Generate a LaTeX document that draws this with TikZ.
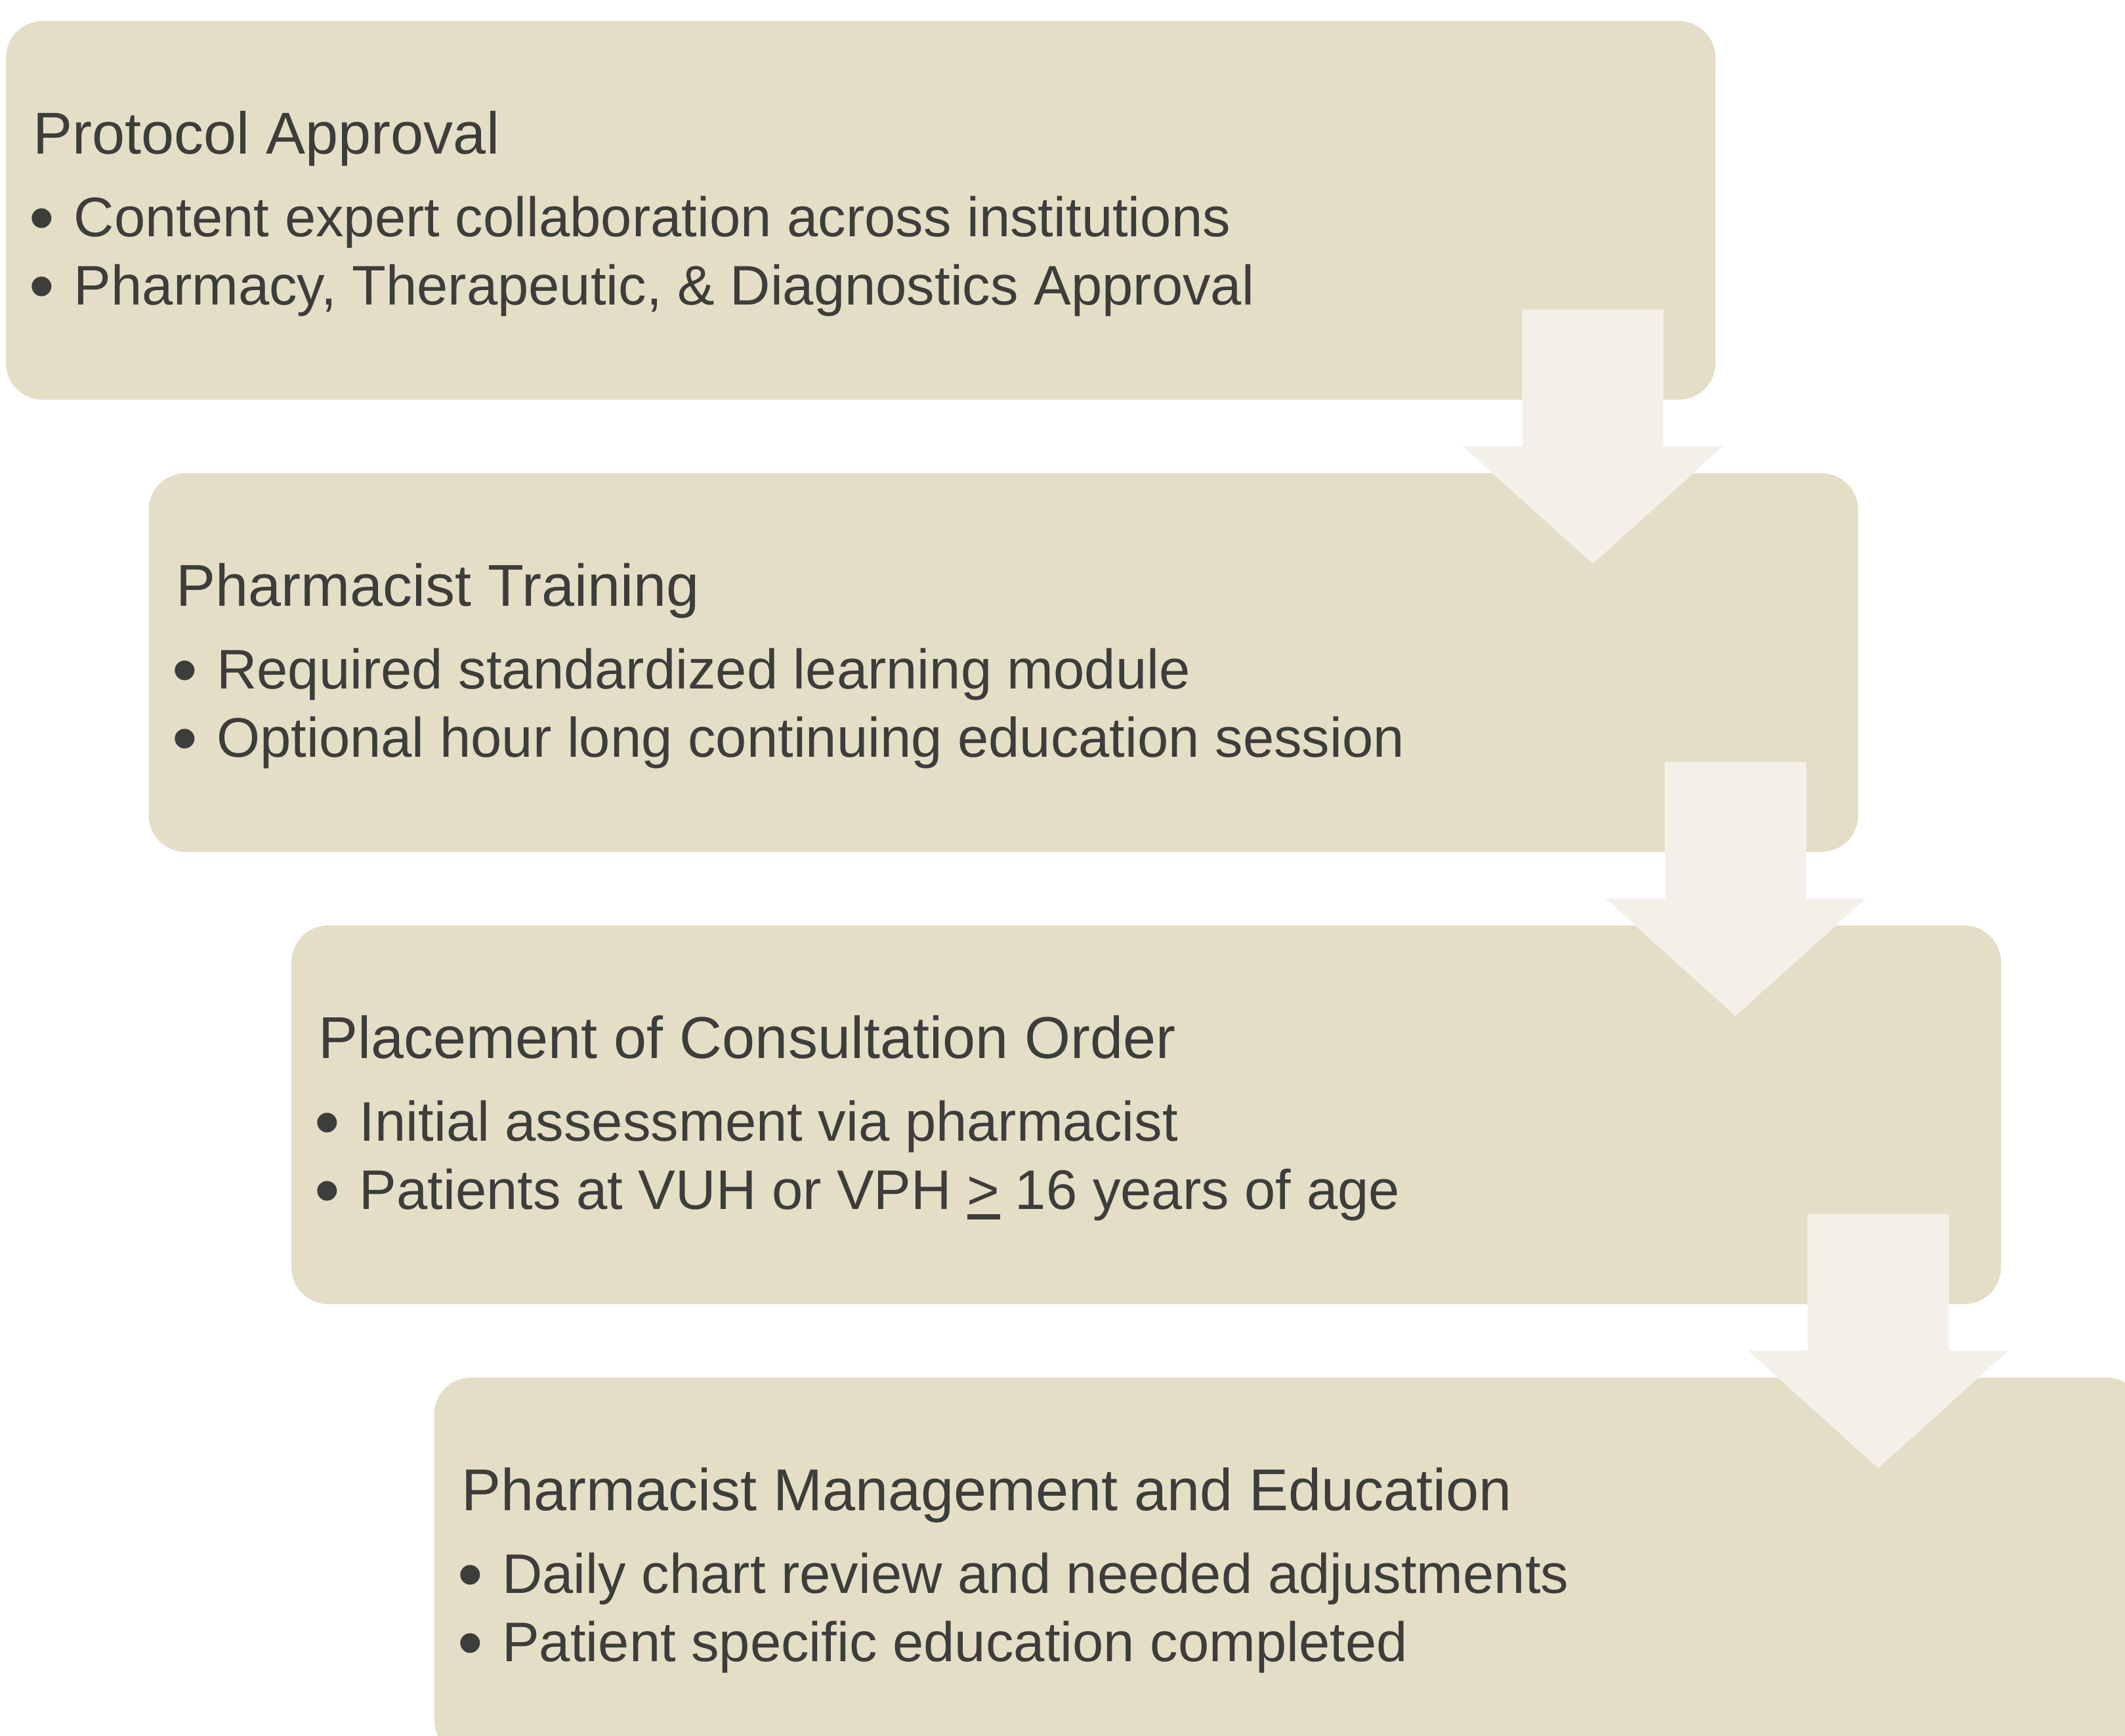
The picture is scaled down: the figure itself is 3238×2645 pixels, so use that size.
\documentclass[tikz,border=0pt]{standalone}
\usepackage{fontspec}
\setmainfont{Liberation Sans}
\usetikzlibrary{calc}
\definecolor{boxfill}{HTML}{E5DEC7}
\definecolor{arrfill}{HTML}{F2F0E8}
\definecolor{arredge}{HTML}{F4F2EC}
\definecolor{txt}{HTML}{3D3D3B}
\newcommand{\bul}{\makebox[17pt][l]{\raisebox{-2.4pt}{\scalebox{1.3}{•}}}}
\newcommand{\ulgt}{\makebox[0pt][l]{\rule[-4pt]{12.5pt}{2pt}}>}
\begin{document}
\begin{tikzpicture}[x=0.25pt,y=-0.25pt,
  stagebox/.style={fill=boxfill, draw=none, rounded corners=14pt, minimum width=651.25pt, minimum height=144.25pt, inner sep=0pt, outer sep=0pt, anchor=north west},
  titletext/.style={anchor=base west, inner sep=0pt, text=txt, font=\fontsize{22.5}{27}\selectfont},
  bullettext/.style={anchor=base west, inner sep=0pt, text=txt, font=\fontsize{21.25}{26}\selectfont},
  blockarrow/.style={fill=arrfill, draw=arredge, line width=0.6pt, line join=miter}]
\path[use as bounding box] (0,0) rectangle (3238,2645);
\clip (0,0) rectangle (3238,2645);
% boxes
\node[stagebox] (b1) at (9,32) {};
\node[stagebox] (b2) at (226.5,721) {};
\node[stagebox] (b3) at (444,1410) {};
\node[stagebox] (b4) at (661.5,2099) {};
% texts
\node[titletext] (t1) at ($(b1.north west)+(41,202)$) {Protocol Approval};
\node[bullettext] (t1a) at ($(b1.north west)+(35,328)$) {\bul Content expert collaboration across institutions};
\node[bullettext] (t1b) at ($(b1.north west)+(35,432)$) {\bul Pharmacy, Therapeutic, \& Diagnostics Approval};
\node[titletext] (t2) at ($(b2.north west)+(41,202)$) {Pharmacist Training};
\node[bullettext] (t2a) at ($(b2.north west)+(35,328)$) {\bul Required standardized learning module};
\node[bullettext] (t2b) at ($(b2.north west)+(35,432)$) {\bul Optional hour long continuing education session};
\node[titletext] (t3) at ($(b3.north west)+(41,202)$) {Placement of Consultation Order};
\node[bullettext] (t3a) at ($(b3.north west)+(35,328)$) {\bul Initial assessment via pharmacist};
\node[bullettext] (t3b) at ($(b3.north west)+(35,432)$) {\bul Patients at VUH or VPH \ulgt{} 16 years of age};
\node[titletext] (t4) at ($(b4.north west)+(41,202)$) {Pharmacist Management and Education};
\node[bullettext] (t4a) at ($(b4.north west)+(35,328)$) {\bul Daily chart review and needed adjustments};
\node[bullettext] (t4b) at ($(b4.north west)+(35,432)$) {\bul Patient specific education completed};
% block arrows
\foreach \s in {b1,b2,b3}{
  \draw[blockarrow] ($(\s.south east)+(-293.5,-136)$) -- ++(213,0) -- ++(0,208) -- ++(89,0) -- ++(-195.5,176) -- ++(-195.5,-176) -- ++(89,0) -- cycle;
}
\end{tikzpicture}
\end{document}
